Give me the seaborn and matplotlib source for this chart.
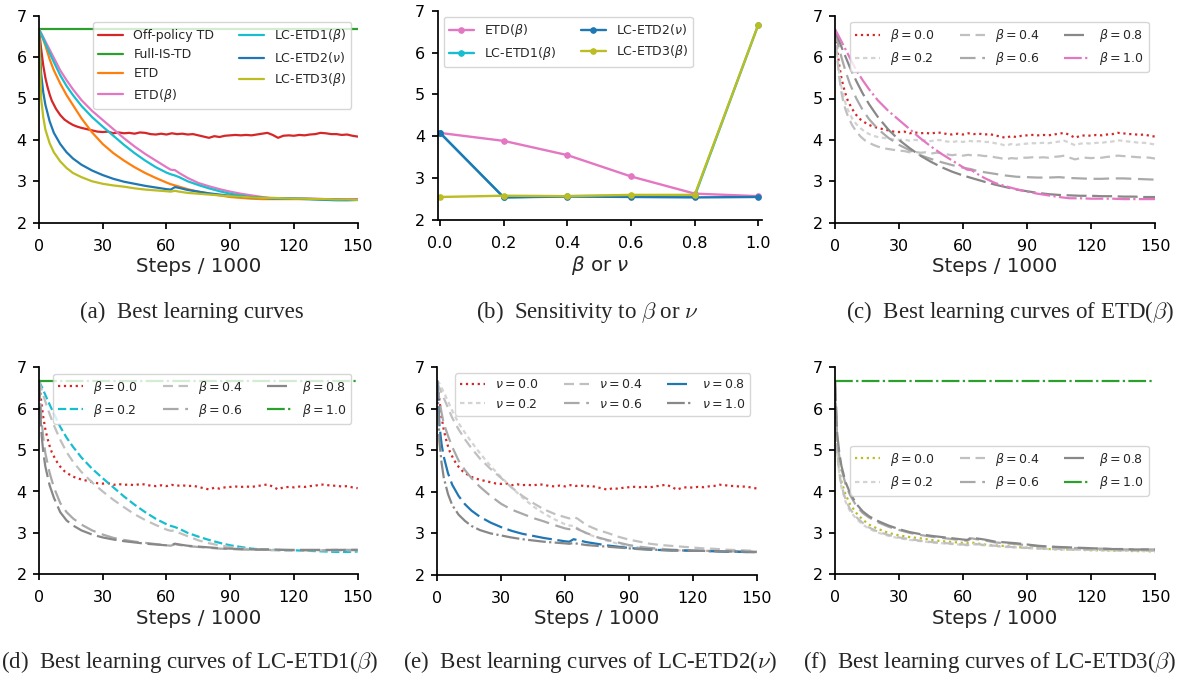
import matplotlib
matplotlib.use("Agg")
import matplotlib.pyplot as plt
import seaborn as sns

# ---------------------------------------------------------------- data
STEPS_FINE = [0, 1, 2, 3, 4, 5, 6, 8, 10, 12, 14, 16, 18, 20,
              22.5, 25, 27.5, 30, 32.5, 35, 37.5, 40, 42.5, 45, 47.5, 50,
              52.5, 55, 57.5, 60, 62.5, 65, 67.5, 70, 72.5, 75, 77.5, 80,
              82.5, 85, 87.5, 90, 92.5, 95, 97.5, 100, 102.5, 105, 107.5, 110,
              112.5, 115, 117.5, 120, 122.5, 125, 127.5, 130, 132.5, 135, 137.5, 140,
              142.5, 145, 147.5, 150]

OFF_POLICY_TD = [6.67, 6.20, 5.80, 5.50, 5.28, 5.10, 4.95, 4.75, 4.60, 4.49, 4.42, 4.36, 4.32, 4.29,
                 4.26, 4.23, 4.20, 4.19, 4.20, 4.16, 4.18, 4.16, 4.17, 4.15, 4.18, 4.17,
                 4.14, 4.13, 4.15, 4.13, 4.16, 4.14, 4.15, 4.13, 4.14, 4.11, 4.08, 4.05,
                 4.09, 4.07, 4.10, 4.11, 4.12, 4.11, 4.12, 4.11, 4.13, 4.15, 4.17, 4.12,
                 4.05, 4.10, 4.11, 4.10, 4.12, 4.11, 4.13, 4.14, 4.17, 4.16, 4.14, 4.14,
                 4.12, 4.13, 4.10, 4.08]

ETD_B02 = [6.67, 6.05, 5.60, 5.28, 5.05, 4.87, 4.73, 4.52, 4.38, 4.28, 4.20, 4.14, 4.10, 4.07,
           4.05, 4.03, 4.01, 4.00, 4.01, 3.98, 4.00, 3.98, 3.99, 3.97, 4.00, 3.99,
           3.96, 3.95, 3.97, 3.95, 3.98, 3.96, 3.97, 3.95, 3.95, 3.92, 3.90, 3.86,
           3.90, 3.88, 3.90, 3.91, 3.92, 3.92, 3.93, 3.92, 3.94, 3.96, 3.98, 3.93,
           3.87, 3.91, 3.92, 3.91, 3.93, 3.93, 3.95, 3.96, 3.99, 3.98, 3.96, 3.95,
           3.93, 3.93, 3.91, 3.89]

ETD_B04 = [6.67, 6.00, 5.50, 5.15, 4.90, 4.72, 4.58, 4.36, 4.20, 4.08, 3.99, 3.93, 3.88, 3.84,
           3.80, 3.78, 3.76, 3.74, 3.73, 3.70, 3.71, 3.69, 3.70, 3.67, 3.69, 3.68,
           3.65, 3.63, 3.65, 3.62, 3.64, 3.62, 3.63, 3.61, 3.61, 3.58, 3.56, 3.53,
           3.56, 3.55, 3.57, 3.57, 3.58, 3.57, 3.58, 3.57, 3.59, 3.60, 3.62, 3.57,
           3.53, 3.56, 3.57, 3.56, 3.57, 3.57, 3.59, 3.60, 3.62, 3.61, 3.60, 3.59,
           3.58, 3.58, 3.57, 3.55]

STEPS = [0, 1, 2, 3, 5, 7, 10, 13, 16, 20,
         25, 30, 35, 40, 45, 50, 55, 60,
         62, 64, 66, 70, 75, 80, 85, 90, 95, 100,
         105, 110, 115, 120, 125, 130, 135, 140, 145, 150]

FULL_IS_STEPS = [0, 150]
FULL_IS_TD = [6.67, 6.67]

ETD = [6.67, 6.55, 6.42, 6.28, 5.95, 5.68, 5.36, 5.08, 4.84, 4.52,
       4.18, 3.90, 3.68, 3.50, 3.34, 3.20, 3.08, 2.97,
       2.93, 2.90, 2.87, 2.81, 2.75, 2.70, 2.66, 2.62, 2.60, 2.58,
       2.57, 2.57, 2.57, 2.57, 2.57, 2.57, 2.56, 2.56, 2.56, 2.57]

ETD_BETA = [6.67, 6.58, 6.48, 6.38, 6.18, 5.98, 5.68, 5.44, 5.22, 4.96,
            4.70, 4.48, 4.26, 4.04, 3.84, 3.66, 3.50, 3.34,
            3.28, 3.27, 3.20, 3.08, 2.96, 2.88, 2.81, 2.75, 2.70, 2.66,
            2.62, 2.59, 2.59, 2.58, 2.58, 2.58, 2.57, 2.57, 2.57, 2.57]

LC_ETD1 = [6.67, 6.56, 6.45, 6.33, 6.10, 5.88, 5.56, 5.30, 5.08, 4.82,
           4.55, 4.32, 4.10, 3.88, 3.68, 3.50, 3.34, 3.21,
           3.17, 3.14, 3.10, 3.00, 2.91, 2.83, 2.76, 2.70, 2.66, 2.62,
           2.60, 2.59, 2.58, 2.58, 2.57, 2.56, 2.55, 2.54, 2.54, 2.55]

LC_ETD2 = [6.67, 5.60, 5.15, 4.85, 4.45, 4.17, 3.90, 3.70, 3.55, 3.40,
           3.26, 3.15, 3.06, 2.99, 2.94, 2.89, 2.85, 2.81,
           2.80, 2.86, 2.84, 2.79, 2.75, 2.71, 2.68, 2.65, 2.63, 2.61,
           2.60, 2.59, 2.59, 2.58, 2.58, 2.57, 2.56, 2.56, 2.55, 2.55]

LC_ETD3 = [6.67, 5.00, 4.55, 4.25, 3.92, 3.70, 3.48, 3.32, 3.20, 3.10,
           3.00, 2.94, 2.90, 2.87, 2.83, 2.80, 2.78, 2.76,
           2.75, 2.77, 2.75, 2.72, 2.70, 2.68, 2.66, 2.64, 2.63, 2.61,
           2.60, 2.60, 2.59, 2.58, 2.58, 2.57, 2.57, 2.56, 2.56, 2.55]

ETD_B06 = [6.60, 6.40, 6.20, 6.00, 5.65, 5.35, 5.00, 4.72, 4.50, 4.27,
           4.05, 3.88, 3.75, 3.63, 3.54, 3.46, 3.39, 3.33,
           3.31, 3.29, 3.26, 3.22, 3.18, 3.14, 3.11, 3.10, 3.09, 3.09,
           3.10, 3.08, 3.07, 3.06, 3.06, 3.07, 3.07, 3.06, 3.05, 3.04]

ETD_B08 = [6.62, 6.50, 6.38, 6.25, 6.00, 5.75, 5.42, 5.12, 4.86, 4.56,
           4.25, 4.00, 3.80, 3.62, 3.47, 3.34, 3.23, 3.14,
           3.11, 3.08, 3.05, 2.99, 2.92, 2.86, 2.80, 2.76, 2.72, 2.69,
           2.67, 2.66, 2.65, 2.65, 2.64, 2.64, 2.63, 2.63, 2.62, 2.62]

LC1_B04 = [6.67, 6.50, 6.33, 6.17, 5.87, 5.60, 5.25, 4.95, 4.72, 4.47,
           4.22, 4.00, 3.80, 3.62, 3.45, 3.31, 3.19, 3.08,
           3.05, 3.06, 3.00, 2.92, 2.82, 2.75, 2.70, 2.66, 2.63, 2.60,
           2.59, 2.58, 2.58, 2.58, 2.58, 2.58, 2.58, 2.58, 2.58, 2.58]

LC1_B06 = [6.67, 5.85, 5.30, 4.92, 4.45, 4.10, 3.72, 3.50, 3.35, 3.20,
           3.06, 2.96, 2.88, 2.83, 2.79, 2.76, 2.73, 2.70,
           2.69, 2.73, 2.71, 2.68, 2.66, 2.64, 2.62, 2.61, 2.60, 2.59,
           2.59, 2.59, 2.59, 2.58, 2.58, 2.58, 2.58, 2.59, 2.59, 2.59]

LC1_B08 = [6.67, 5.50, 4.95, 4.60, 4.15, 3.85, 3.50, 3.30, 3.18, 3.06,
           2.96, 2.89, 2.84, 2.80, 2.77, 2.74, 2.72, 2.70,
           2.70, 2.74, 2.72, 2.69, 2.67, 2.65, 2.63, 2.62, 2.61, 2.60,
           2.60, 2.60, 2.59, 2.59, 2.59, 2.59, 2.59, 2.59, 2.59, 2.59]

LC2_N02 = [6.67, 6.60, 6.50, 6.40, 6.18, 5.95, 5.65, 5.42, 5.20, 4.93,
           4.62, 4.35, 4.10, 3.86, 3.65, 3.48, 3.34, 3.22,
           3.19, 3.18, 3.12, 3.00, 2.90, 2.82, 2.75, 2.70, 2.66, 2.63,
           2.61, 2.60, 2.59, 2.58, 2.58, 2.57, 2.57, 2.57, 2.57, 2.57]

LC2_N04 = [6.60, 6.50, 6.38, 6.26, 6.02, 5.78, 5.50, 5.26, 5.05, 4.80,
           4.55, 4.33, 4.10, 3.90, 3.73, 3.58, 3.47, 3.39,
           3.36, 3.40, 3.35, 3.20, 3.09, 3.01, 2.92, 2.85, 2.80, 2.75,
           2.72, 2.70, 2.68, 2.66, 2.64, 2.63, 2.61, 2.60, 2.59, 2.58]

LC2_N06 = [6.60, 6.20, 5.90, 5.65, 5.35, 5.08, 4.75, 4.52, 4.33, 4.12,
           3.90, 3.71, 3.57, 3.47, 3.37, 3.29, 3.20, 3.12,
           3.10, 3.16, 3.10, 3.01, 2.91, 2.84, 2.78, 2.72, 2.68, 2.65,
           2.63, 2.61, 2.60, 2.59, 2.58, 2.58, 2.57, 2.57, 2.56, 2.56]

LC2_N10 = [6.67, 5.20, 4.70, 4.35, 3.95, 3.68, 3.45, 3.30, 3.18, 3.08,
           3.00, 2.95, 2.90, 2.86, 2.83, 2.80, 2.78, 2.76,
           2.75, 2.77, 2.75, 2.72, 2.70, 2.68, 2.66, 2.64, 2.62, 2.61,
           2.60, 2.59, 2.59, 2.58, 2.58, 2.57, 2.57, 2.56, 2.56, 2.55]

LC3_B02 = [6.67, 4.90, 4.42, 4.10, 3.75, 3.53, 3.34, 3.20, 3.10, 3.01,
           2.93, 2.87, 2.83, 2.80, 2.77, 2.75, 2.73, 2.71,
           2.70, 2.73, 2.72, 2.70, 2.68, 2.66, 2.65, 2.63, 2.62, 2.61,
           2.60, 2.60, 2.59, 2.59, 2.58, 2.58, 2.57, 2.57, 2.57, 2.57]

LC3_B04 = [6.67, 4.95, 4.45, 4.15, 3.80, 3.58, 3.38, 3.24, 3.13, 3.03,
           2.95, 2.89, 2.85, 2.81, 2.78, 2.76, 2.74, 2.72,
           2.71, 2.74, 2.73, 2.71, 2.69, 2.67, 2.65, 2.64, 2.63, 2.62,
           2.61, 2.60, 2.60, 2.59, 2.59, 2.58, 2.58, 2.58, 2.57, 2.57]

LC3_B06 = [6.67, 5.30, 4.85, 4.55, 4.17, 3.92, 3.65, 3.48, 3.37, 3.26,
           3.15, 3.07, 3.00, 2.95, 2.91, 2.88, 2.85, 2.82,
           2.81, 2.87, 2.85, 2.82, 2.77, 2.75, 2.73, 2.70, 2.68, 2.67,
           2.65, 2.64, 2.63, 2.62, 2.62, 2.61, 2.60, 2.60, 2.60, 2.60]

LC3_B08 = [6.67, 5.40, 4.95, 4.62, 4.22, 3.97, 3.70, 3.52, 3.40, 3.29,
           3.18, 3.09, 3.02, 2.97, 2.93, 2.90, 2.87, 2.84,
           2.83, 2.89, 2.87, 2.84, 2.79, 2.77, 2.75, 2.72, 2.69, 2.67,
           2.66, 2.65, 2.64, 2.63, 2.62, 2.61, 2.61, 2.60, 2.60, 2.60]

# sensitivity panel
PARAMS = [0.0, 0.2, 0.4, 0.6, 0.8, 1.0]
SENS_ETD_BETA = [4.08, 3.89, 3.55, 3.04, 2.63, 2.57]
SENS_LC_ETD1 = [4.08, 2.54, 2.57, 2.58, 2.57, 6.67]
SENS_LC_ETD2 = [4.08, 2.54, 2.56, 2.55, 2.54, 2.55]
SENS_LC_ETD3 = [2.55, 2.58, 2.57, 2.60, 2.60, 6.67]

XTICKS = [0, 30, 60, 90, 120, 150]
YTICKS = [2, 3, 4, 5, 6, 7]
PTICKS = [0.0, 0.2, 0.4, 0.6, 0.8, 1.0]

# ---------------------------------------------------------------- style
sns.set_style("ticks")
plt.rcParams.update({
    "font.family": ["DejaVu Sans"],
    "axes.edgecolor": "black",
    "axes.linewidth": 1.25,
    "xtick.color": "black",
    "ytick.color": "black",
    "xtick.major.width": 1.25,
    "ytick.major.width": 1.25,
    "xtick.major.size": 4,
    "ytick.major.size": 4,
    "xtick.major.pad": 7.5,
    "ytick.major.pad": 5,
    "xtick.labelsize": 11.5,
    "ytick.labelsize": 11.5,
    "axes.labelsize": 14.3,
    "legend.fontsize": 9,
})

RED, GREEN, ORANGE, PINK = "#d62728", "#2ca02c", "#ff7f0e", "#e377c2"
CYAN, BLUE, OLIVE = "#17becf", "#1f77b4", "#bcbd22"
G2, G4, G6, G8 = "#d3d3d3", "#c0c0c0", "#a9a9a9", "#888888"
LS0, LS2, LS4, LS6, LS8 = ":", (0, (2, 1.6)), (0, (4.5, 2.5)), (0, (7, 3)), (0, (9, 2.5))
LS10 = (0, (8, 1.5, 1, 1.5))

W, H = 1187, 681
fig = plt.figure(figsize=(W / 100, H / 100), dpi=100)


def add_ax(x0, x1, ytop, ybot):
    return fig.add_axes([x0 / W, 1 - ybot / H, (x1 - x0) / W, (ybot - ytop) / H])


def line(ax, x, y, color, ls, label, lw=1.6, **kw):
    sns.lineplot(x=x, y=y, ax=ax, color=color, linestyle=ls, linewidth=lw,
                 label=label, **kw)


def finish_steps(ax):
    ax.set_xlim(0, 150)
    ax.set_ylim(2, 7)
    ax.set_xticks(XTICKS)
    ax.set_yticks(YTICKS)
    ax.set_xlabel("Steps / 1000", labelpad=2.5)
    ax.set_ylabel("")
    sns.despine(ax=ax)


def bl(v):
    return r"$\beta=%.1f$" % v


def nl(v):
    return r"$\nu=%.1f$" % v


# (a)
ax = add_ax(39, 357.7, 15.7, 222.7)
line(ax, STEPS_FINE, OFF_POLICY_TD, RED, "-", "Off-policy TD")
line(ax, FULL_IS_STEPS, FULL_IS_TD, GREEN, "-", "Full-IS-TD")
line(ax, STEPS, ETD, ORANGE, "-", "ETD")
line(ax, STEPS, ETD_BETA, PINK, "-", r"ETD($\beta$)")
line(ax, STEPS, LC_ETD1, CYAN, "-", r"LC-ETD1($\beta$)")
line(ax, STEPS, LC_ETD2, BLUE, "-", r"LC-ETD2($\nu$)")
line(ax, STEPS, LC_ETD3, OLIVE, "-", r"LC-ETD3($\beta$)")
finish_steps(ax)
ax.legend(loc="upper right", ncol=2)

# (b)
ax = add_ax(437.7, 761.7, 10.7, 220)
for vals, c, lab in [(SENS_ETD_BETA, PINK, r"ETD($\beta$)"),
                     (SENS_LC_ETD1, CYAN, r"LC-ETD1($\beta$)"),
                     (SENS_LC_ETD2, BLUE, r"LC-ETD2($\nu$)"),
                     (SENS_LC_ETD3, OLIVE, r"LC-ETD3($\beta$)")]:
    line(ax, PARAMS, vals, c, "-", lab, lw=1.7, marker="o", markersize=4,
         mec=c, mfc=c)
ax.set_xlim(-0.0075, 1.0105)
ax.set_ylim(2, 7)
ax.set_xticks(PTICKS)
ax.set_xticklabels(["%.1f" % p for p in PTICKS])
ax.set_yticks(YTICKS)
ax.set_xlabel(r"$\beta$ or $\nu$", labelpad=2.5)
ax.set_ylabel("")
sns.despine(ax=ax)
ax.legend(loc="upper left", ncol=2)

# (c)
ax = add_ax(835, 1155, 15.7, 222.7)
line(ax, STEPS_FINE, OFF_POLICY_TD, RED, LS0, bl(0.0))
line(ax, STEPS_FINE, ETD_B02, G2, LS2, bl(0.2))
line(ax, STEPS_FINE, ETD_B04, G4, LS4, bl(0.4))
line(ax, STEPS, ETD_B06, G6, LS6, bl(0.6))
line(ax, STEPS, ETD_B08, G8, LS8, bl(0.8))
line(ax, STEPS, ETD_BETA, PINK, LS10, bl(1.0))
finish_steps(ax)
ax.legend(loc="upper right", ncol=3)

# (d)
ax = add_ax(39, 357.7, 367.3, 574.3)
line(ax, STEPS_FINE, OFF_POLICY_TD, RED, LS0, bl(0.0))
line(ax, STEPS, LC_ETD1, CYAN, "--", bl(0.2))
line(ax, STEPS, LC1_B04, G4, LS4, bl(0.4))
line(ax, STEPS, LC1_B06, G6, LS6, bl(0.6))
line(ax, STEPS, LC1_B08, G8, LS8, bl(0.8))
line(ax, FULL_IS_STEPS, FULL_IS_TD, GREEN, LS10, bl(1.0))
finish_steps(ax)
ax.legend(loc="upper right", ncol=3)

# (e)
ax = add_ax(437.3, 756.7, 367, 575)
line(ax, STEPS_FINE, OFF_POLICY_TD, RED, LS0, nl(0.0))
line(ax, STEPS, LC2_N02, G2, LS2, nl(0.2))
line(ax, STEPS, LC2_N04, G4, LS4, nl(0.4))
line(ax, STEPS, LC2_N06, G6, LS6, nl(0.6))
line(ax, STEPS, LC_ETD2, BLUE, LS8, nl(0.8))
line(ax, STEPS, LC2_N10, G8, LS10, nl(1.0))
finish_steps(ax)
ax.legend(loc="upper right", ncol=3)

# (f)
ax = add_ax(835, 1155, 367.3, 574.3)
line(ax, STEPS, LC_ETD3, OLIVE, LS0, bl(0.0))
line(ax, STEPS, LC3_B02, G2, LS2, bl(0.2))
line(ax, STEPS, LC3_B04, G4, LS4, bl(0.4))
line(ax, STEPS, LC3_B06, G6, LS6, bl(0.6))
line(ax, STEPS, LC3_B08, G8, LS8, bl(0.8))
line(ax, FULL_IS_STEPS, FULL_IS_TD, GREEN, LS10, bl(1.0))
finish_steps(ax)
ax.legend(loc="center right", ncol=3)

# captions
CAPTIONS = [
    (191.7, 318, "(a)  Best learning curves"),
    (587, 318, r"(b)  Sensitivity to $\beta$ or $\nu$"),
    (1010, 318, r"(c)  Best learning curves of ETD($\beta$)"),
    (189.5, 668, r"(d)  Best learning curves of LC-ETD1($\beta$)"),
    (590, 668, r"(e)  Best learning curves of LC-ETD2($\nu$)"),
    (990, 668, r"(f)  Best learning curves of LC-ETD3($\beta$)"),
]
for cx, cy, txt in CAPTIONS:
    fig.text(cx / W, 1 - cy / H, txt, ha="center", va="baseline",
             family="Liberation Serif", fontsize=16.5, math_fontfamily="cm")

fig.savefig("out.png", dpi=100)
